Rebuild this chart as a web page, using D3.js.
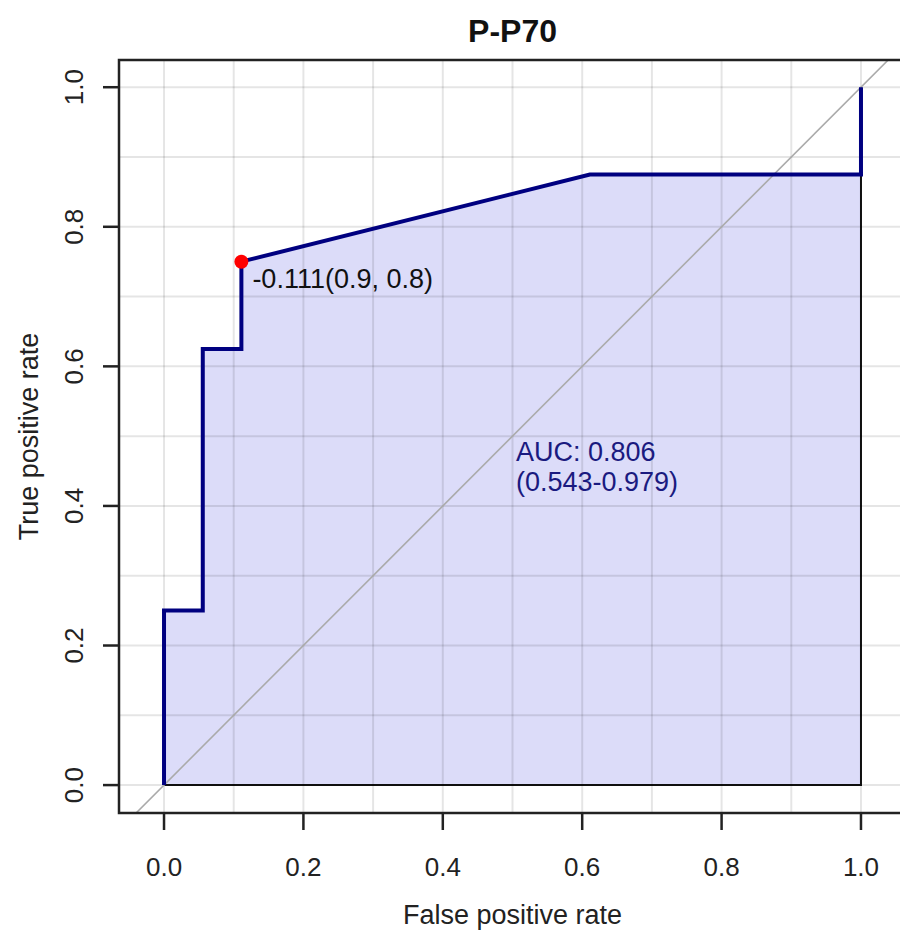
<!DOCTYPE html>
<html>
<head>
<meta charset="utf-8">
<script src="https://cdn.jsdelivr.net/npm/d3@7"></script>
<style>
  body { margin: 0; background: #fff; }
  svg { display: block; font-family: "Liberation Sans", Arial, sans-serif; }
</style>
</head>
<body>
<div id="chart"></div>
<script>
// ROC curve points (false positive rate, true positive rate)
const fpr = [0, 0, 0.0556, 0.0556, 0.111, 0.111, 0.611, 1, 1];
const tpr = [0, 0.25, 0.25, 0.625, 0.625, 0.75, 0.875, 0.875, 1];

const bestPoint = { fpr: 0.111, tpr: 0.75, label: "-0.111(0.9, 0.8)" };
const aucLines = ["AUC: 0.806", "(0.543-0.979)"];
const aucPos = { fpr: 0.505, tpr: 0.465 };

const tickValues = [0, 0.2, 0.4, 0.6, 0.8, 1.0];
const gridValues = d3.range(0, 1.0001, 0.1);

const titleText = "P-P70";
const xLabel = "False positive rate";
const yLabel = "True positive rate";

const width = 900, height = 930;
const pLeft = 119, pRight = 906, pTop = 60, pBottom = 813;

const svg = d3.select('#chart').append('svg')
    .attr('width', width)
    .attr('height', height);

const x = d3.scaleLinear().domain([-0.0646, 1.0646]).range([pLeft, pRight]);
const y = d3.scaleLinear().domain([-0.04, 1.039]).range([pBottom, pTop]);

const pts = fpr.map((d, i) => [d, tpr[i]]);

const plot = svg.append('g');

// filled area under the curve, with thin black outline
const poly = pts.concat([[1, 0], [0, 0]]);
plot.append('path')
    .attr('d', d3.line().x(d => x(d[0])).y(d => y(d[1]))(poly) + 'Z')
    .attr('fill', '#dcdcf9')
    .attr('stroke', '#111')
    .attr('stroke-width', 2);

// grid on top of the fill
plot.selectAll('line.vgrid')
  .data(gridValues)
  .enter().append('line')
    .attr('class', 'vgrid')
    .attr('x1', d => x(d)).attr('x2', d => x(d))
    .attr('y1', pTop).attr('y2', pBottom)
    .attr('stroke', 'rgba(0,0,0,0.1)')
    .attr('stroke-width', 2);

plot.selectAll('line.hgrid')
  .data(gridValues)
  .enter().append('line')
    .attr('class', 'hgrid')
    .attr('y1', d => y(d)).attr('y2', d => y(d))
    .attr('x1', pLeft).attr('x2', pRight)
    .attr('stroke', 'rgba(0,0,0,0.1)')
    .attr('stroke-width', 2);

// diagonal reference line clipped to plot area
svg.append('clipPath').attr('id', 'clip')
  .append('rect')
    .attr('x', pLeft).attr('y', pTop)
    .attr('width', pRight - pLeft).attr('height', pBottom - pTop);

plot.append('line')
    .attr('clip-path', 'url(#clip)')
    .attr('x1', x(-0.1)).attr('y1', y(-0.1))
    .attr('x2', x(1.1)).attr('y2', y(1.1))
    .attr('stroke', '#aaaaaa')
    .attr('stroke-width', 1.6);

// ROC curve
plot.append('path')
    .attr('d', d3.line().x(d => x(d[0])).y(d => y(d[1]))(pts))
    .attr('fill', 'none')
    .attr('stroke', '#000080')
    .attr('stroke-width', 4)
    .attr('stroke-linejoin', 'miter');

// best threshold point
plot.append('circle')
    .attr('cx', x(bestPoint.fpr))
    .attr('cy', y(bestPoint.tpr))
    .attr('r', 7)
    .attr('fill', '#ff0000');

plot.append('text')
    .attr('x', x(bestPoint.fpr) + 11)
    .attr('y', y(bestPoint.tpr) + 26)
    .attr('font-size', '27px')
    .attr('fill', '#111')
    .text(bestPoint.label);

// AUC text
plot.selectAll('text.auc')
  .data(aucLines)
  .enter().append('text')
    .attr('class', 'auc')
    .attr('x', x(aucPos.fpr))
    .attr('y', (d, i) => y(aucPos.tpr) + i * 30)
    .attr('font-size', '27px')
    .attr('fill', '#1a1a80')
    .text(d => d);

// box
svg.append('rect')
    .attr('x', pLeft).attr('y', pTop)
    .attr('width', pRight - pLeft).attr('height', pBottom - pTop)
    .attr('fill', 'none')
    .attr('stroke', '#222')
    .attr('stroke-width', 2.5);

// x axis ticks
const xt = svg.selectAll('g.xtick')
  .data(tickValues)
  .enter().append('g')
    .attr('class', 'xtick')
    .attr('transform', d => `translate(${x(d)},${pBottom})`);
xt.append('line')
    .attr('y2', 17)
    .attr('stroke', '#222')
    .attr('stroke-width', 2.5);
xt.append('text')
    .attr('y', 63)
    .attr('text-anchor', 'middle')
    .attr('font-size', '26px')
    .attr('fill', '#222')
    .text(d => d.toFixed(1));

// y axis ticks
const yt = svg.selectAll('g.ytick')
  .data(tickValues)
  .enter().append('g')
    .attr('class', 'ytick')
    .attr('transform', d => `translate(${pLeft},${y(d)})`);
yt.append('line')
    .attr('x2', -16)
    .attr('stroke', '#222')
    .attr('stroke-width', 2.5);
yt.append('text')
    .attr('transform', 'translate(-36,0) rotate(-90)')
    .attr('text-anchor', 'middle')
    .attr('font-size', '26px')
    .attr('fill', '#222')
    .text(d => d.toFixed(1));

// titles
svg.append('text')
    .attr('x', (pLeft + pRight) / 2)
    .attr('y', 42)
    .attr('text-anchor', 'middle')
    .attr('font-size', '32px')
    .attr('font-weight', 'bold')
    .attr('fill', '#111')
    .text(titleText);

svg.append('text')
    .attr('x', (pLeft + pRight) / 2)
    .attr('y', 924)
    .attr('text-anchor', 'middle')
    .attr('font-size', '27px')
    .attr('fill', '#222')
    .text(xLabel);

svg.append('text')
    .attr('transform', `translate(38,${(pTop + pBottom) / 2}) rotate(-90)`)
    .attr('text-anchor', 'middle')
    .attr('font-size', '27px')
    .attr('fill', '#222')
    .text(yLabel);
</script>
</body>
</html>
